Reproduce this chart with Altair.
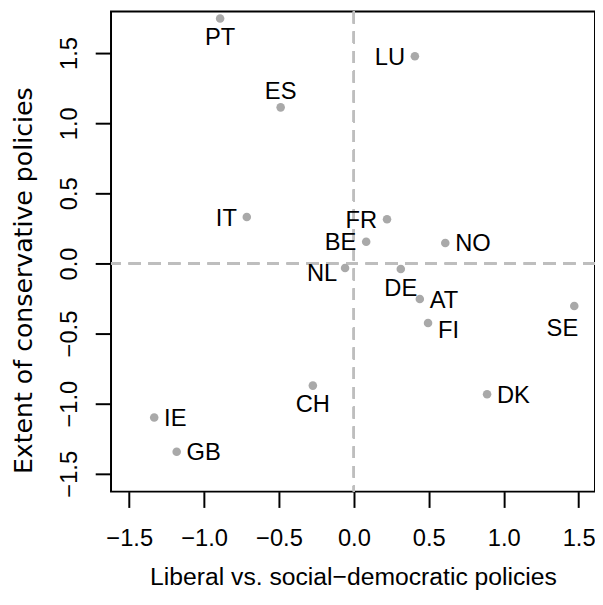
import altair as alt
import pandas as pd

# ---- data ----
countries = ["PT", "ES", "IT", "LU", "FR", "BE", "NO", "NL", "DE",
             "AT", "FI", "SE", "DK", "CH", "IE", "GB"]
liberal_socdem = [-0.893, -0.489, -0.715, 0.407, 0.221, 0.082, 0.610, -0.059, 0.313,
                  0.440, 0.495, 1.471, 0.889, -0.274, -1.333, -1.183]
conservative = [1.746, 1.113, 0.331, 1.477, 0.315, 0.155, 0.146, -0.033, -0.040,
                -0.254, -0.425, -0.303, -0.932, -0.871, -1.099, -1.343]
label_pos = ["below", "above", "left", "left", "left", "left", "right", "left-low", "below",
             "right", "right-low", "below-left", "right", "below", "right", "right"]
tick_values = [-1.5, -1.0, -0.5, 0.0, 0.5, 1.0, 1.5]

x_title = "Liberal vs. social\u2212democratic policies"
y_title = "Extent of conservative policies"

df = pd.DataFrame({"country": countries, "x": liberal_socdem,
                   "y": conservative, "pos": label_pos})

# ---- style ----
FONT = "Liberation Sans"
FS = 24
W, H = 490, 486
XDOM = [-1.6213, 1.6094]
YDOM = [-1.6268, 1.7958]

# label placement (align, dx, dy) per position code
placements = {
    "below": ("center", 0, 27),
    "above": ("center", 0, -8.5),
    "left": ("right", -10, 8.6),
    "left-low": ("right", -8, 12.6),
    "right": ("left", 10, 8.6),
    "right-low": ("left", 10, 15.6),
    "below-left": ("center", -12, 30.6),
}

x_axis = alt.Axis(values=tick_values, format=".1f", title=x_title, grid=False,
                  domain=False, tickSize=16, tickWidth=2, tickColor="black",
                  labelFont=FONT, labelFontSize=FS, labelColor="black",
                  labelBaseline="alphabetic", labelPadding=39, labelFlush=False,
                  labelOverlap=False, titleFont=FONT, titleFontSize=25,
                  titleFontWeight="normal", titleColor="black",
                  titleBaseline="alphabetic", titleY=94)
y_axis = alt.Axis(values=tick_values, format=".1f", title=y_title, grid=False,
                  domain=False, tickSize=16, tickWidth=2, tickColor="black",
                  labelFont=FONT, labelFontSize=FS, labelColor="black",
                  labelAngle=270, labelAlign="center", labelBaseline="alphabetic",
                  labelPadding=19, labelFlush=False, labelOverlap=False,
                  titleFont="DejaVu Sans", titleFontSize=25.5, titleFontWeight="normal",
                  titleColor="black", titleAngle=270, titleAlign="center",
                  titleBaseline="alphabetic", titleX=-80, titleY=272)

xs = alt.Scale(domain=XDOM, nice=False, zero=False)
ys = alt.Scale(domain=YDOM, nice=False, zero=False)

base = alt.Chart(df)

vrule = base.mark_rule(color="#BEBEBE", strokeWidth=2, strokeDash=[12, 8]).encode(
    x=alt.datum(0, scale=xs, axis=x_axis))
hrule = base.mark_rule(color="#BEBEBE", strokeWidth=2, strokeDash=[12, 8]).encode(
    y=alt.datum(0, scale=ys, axis=y_axis))

points = base.mark_circle(size=75, color="#A9A9A9", opacity=1).encode(
    x=alt.X("x:Q", scale=xs, axis=x_axis),
    y=alt.Y("y:Q", scale=ys, axis=y_axis),
)

layers = [vrule, hrule, points]
for code, (align, dx, dy) in placements.items():
    layers.append(
        base.transform_filter(alt.datum.pos == code)
        .mark_text(font=FONT, fontSize=FS, color="black", align=align,
                   baseline="alphabetic", dx=dx, dy=dy)
        .encode(x=alt.X("x:Q", scale=xs, axis=x_axis),
                y=alt.Y("y:Q", scale=ys, axis=y_axis),
                text="country:N")
    )

chart = alt.layer(*layers).properties(
    width=W, height=H,
    autosize=alt.AutoSizeParams(type="none"),
    padding={"left": 104.3, "top": 0, "right": 0, "bottom": 98},
).configure_view(stroke="black", strokeWidth=2)

chart.save("out.html", embed_options={"renderer": "svg", "actions": False})
